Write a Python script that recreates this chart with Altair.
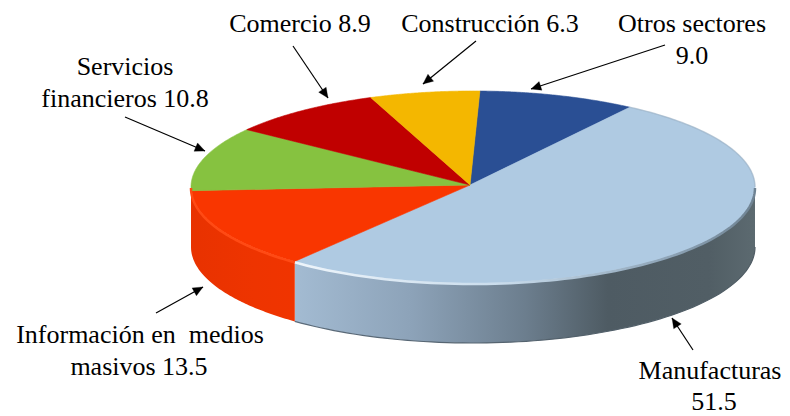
import math
import altair as alt
import pandas as pd

sectors = ["Otros sectores", "Manufacturas", "Información en medios masivos",
           "Servicios financieros", "Comercio", "Construcción"]
values = [9.0, 51.5, 13.5, 10.8, 8.9, 6.3]
top_colors = ["#2A4F94", "#AFCAE2", "#F93600", "#86C240", "#C00000", "#F4B700"]

label_texts = ["Comercio 8.9", "Construcción 6.3", "Otros sectores", "9.0", "Servicios",
               "financieros 10.8", "Información en \u00a0medios", "masivos 13.5", "Manufacturas", "51.5"]
label_x = [300, 490, 692, 692, 125, 125, 140, 139, 710, 714]
label_y = [32, 32, 32, 64, 75, 107, 343, 375, 379, 410]

arrow_x0 = [293, 476, 665, 125, 156, 693]
arrow_y0 = [46, 41, 45, 117, 313, 350]
arrow_x1 = [328, 423, 531, 205, 203, 672]
arrow_y1 = [98, 84, 89, 151, 287, 318]

CX, CY, A, B, DEPTH, START = 473, 187, 282, 96, 60, 1.4
X = alt.X("x:Q", scale=alt.Scale(domain=[8, 782], nice=False, zero=False), axis=None)
Y = alt.Y("y:Q", scale=alt.Scale(domain=[416, 8], nice=False, zero=False), axis=None)


def rim(t):
    r = math.radians(t)
    return CX + A * math.sin(r), CY - B * math.cos(r)


def arc_pts(t0, t1, n=80):
    return [rim(t0 + (t1 - t0) * i / n) for i in range(n + 1)]


def poly(points, fill, stroke_w=0.6):
    df = pd.DataFrame([{"x": p[0], "y": p[1], "i": i} for i, p in enumerate(points + points[:1])])
    return alt.Chart(df).mark_line(fill=fill, stroke=fill, strokeWidth=stroke_w).encode(
        x=X, y=Y, order="i:Q")


def grad(stops):
    return alt.Gradient(gradient="linear", x1=0, x2=1, y1=0, y2=0,
                        stops=[alt.GradientStop(offset=o, color=c) for o, c in stops])


def side(t0, t1, fill):
    pts = arc_pts(t0, t1)
    df = pd.DataFrame([{"x": x, "y": y, "y2": y + DEPTH} for x, y in pts])
    return alt.Chart(df).mark_area(fill=fill).encode(x=X, y=Y, y2="y2:Q")


def edge(t0, t1, stroke, w, dy=0.0, opacity=1.0):
    pts = arc_pts(t0, t1)
    df = pd.DataFrame([{"x": x, "y": y + dy, "i": i} for i, (x, y) in enumerate(pts)])
    return alt.Chart(df).mark_line(stroke=stroke, strokeWidth=w, strokeOpacity=opacity).encode(
        x=X, y=Y, order="i:Q")


angles = []
t = START
for v in values:
    angles.append((t, t + v * 3.6))
    t += v * 3.6

layers = []
m0, m1 = angles[1]
layers.append(side(90, m1, grad([(0, "#A3BBD2"), (0.25, "#8DA3B9"), (0.5, "#6C7E8E"),
                                 (0.68, "#4E5B63"), (0.9, "#515E65"), (1, "#5C6A70")])))
layers.append(side(m1, 270, grad([(0, "#E83200"), (0.6, "#EE3400"), (1, "#F03400")])))
layers.append(edge(90, m1, grad([(0, "#5B6B7A"), (1, "#4E5B63")]), 1.2, DEPTH))
for (a0, a1), c in zip(angles, top_colors):
    layers.append(poly([(CX - 3, CY - 2)] + arc_pts(a0, a1), c))
# bevel along the rim of the top face
layers.append(edge(90, m1, grad([(0, "#EEF5FB"), (0.45, "#C9DCEC"), (0.8, "#8FA5B8"), (1, "#6F8393")]), 2.5, 1))
layers.append(edge(m1, 270, "#FF4A14", 2.5, 1))
layers.append(edge(m0, 90, "#8FA3B3", 1.5, 0, 0.4))

for x0, y0, x1, y1 in zip(arrow_x0, arrow_y0, arrow_x1, arrow_y1):
    d = pd.DataFrame([{"x": x0, "y": y0}, {"x": x1, "y": y1}])
    layers.append(alt.Chart(d).mark_line(stroke="black", strokeWidth=1.2).encode(x=X, y=Y))
    L = math.hypot(x1 - x0, y1 - y0)
    ux, uy = (x1 - x0) / L, (y1 - y0) / L
    head = [(x1, y1), (x1 - 10 * ux - 4.5 * uy, y1 - 10 * uy + 4.5 * ux),
            (x1 - 10 * ux + 4.5 * uy, y1 - 10 * uy - 4.5 * ux)]
    layers.append(poly(head, "black", 0.3))

labels = pd.DataFrame({"x": label_x, "y": label_y, "t": label_texts})
layers.append(alt.Chart(labels).mark_text(font="Liberation Serif", fontSize=26, color="black",
                                          align="center", baseline="alphabetic").encode(x=X, y=Y, text="t:N"))

chart = alt.layer(*layers).properties(width=774, height=408, padding=0,
                                      autosize=alt.AutoSizeParams(type="none")).configure_view(stroke=None)
chart.save("out.html", embed_options={"renderer": "svg", "actions": False})
